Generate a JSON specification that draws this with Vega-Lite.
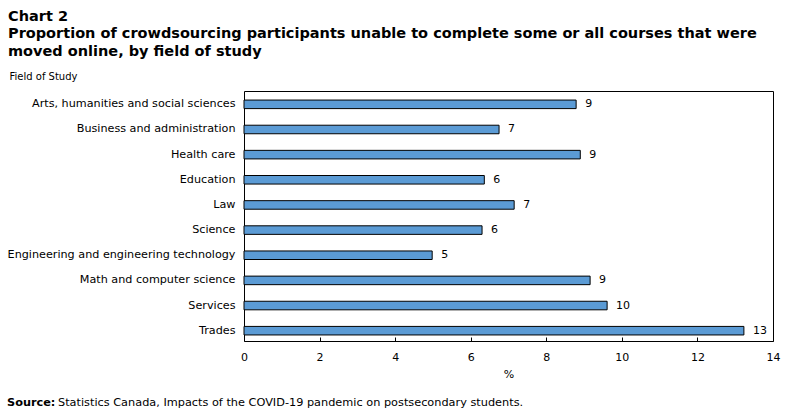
{
  "$schema": "https://vega.github.io/schema/vega-lite/v6.json",
  "width": 529,
  "height": 250,
  "autosize": {"type": "none"},
  "padding": {"left": 244, "top": 91, "right": 21, "bottom": 75},
  "background": "white",
  "config": {
    "font": "DejaVu Sans",
    "view": {"stroke": "black", "strokeWidth": 1},
    "axis": {"labelColor": "black", "titleColor": "black", "labelFont": "DejaVu Sans", "titleFont": "DejaVu Sans"}
  },
  "title": {
    "text": [
      "Chart 2",
      "Proportion of crowdsourcing  participants unable to complete some or all courses that were",
      "moved online,  by field of study"
    ],
    "anchor": "start",
    "frame": "group",
    "dx": -236,
    "offset": 12,
    "font": "DejaVu Sans",
    "fontSize": 14.5,
    "fontWeight": "bold",
    "lineHeight": 17.5,
    "color": "black"
  },
  "layer": [
    {
      "data": {
        "values": [
          {"field": "Arts, humanities and social sciences", "pct": 8.79},
          {"field": "Business and administration", "pct": 6.75},
          {"field": "Health care", "pct": 8.9},
          {"field": "Education", "pct": 6.36},
          {"field": "Law", "pct": 7.15},
          {"field": "Science", "pct": 6.3},
          {"field": "Engineering and engineering technology", "pct": 4.98},
          {"field": "Math and computer science", "pct": 9.16},
          {"field": "Services", "pct": 9.61},
          {"field": "Trades", "pct": 13.23}
        ]
      },
      "encoding": {
        "y": {
          "field": "field",
          "type": "nominal",
          "sort": null,
          "scale": {"paddingInner": 0.66, "paddingOuter": 0.3, "align": 0.6},
          "axis": {
            "title": "Field of Study",
            "titleAngle": 0,
            "titleAlign": "left",
            "titleBaseline": "alphabetic",
            "titleX": -235,
            "titleY": -12,
            "titleFontSize": 10,
            "titleFontWeight": "normal",
            "labelFontSize": 11.2,
            "labelPadding": 9,
            "labelLimit": 0,
            "ticks": false,
            "domain": false
          }
        },
        "x": {
          "field": "pct",
          "type": "quantitative",
          "scale": {"domain": [0, 14], "nice": false},
          "axis": {
            "values": [0, 2, 4, 6, 8, 10, 12, 14],
            "grid": false,
            "domain": false,
            "tickSize": -4,
            "tickColor": "black",
            "labelFontSize": 11,
            "labelPadding": 14,
            "labelFlush": false,
            "title": "%",
            "titleFontSize": 11,
            "titleFontWeight": "normal",
            "titlePadding": 6
          }
        }
      },
      "layer": [
        {
          "mark": {"type": "bar", "fill": "#5B9BD5", "stroke": "black", "strokeWidth": 1}
        },
        {
          "mark": {"type": "text", "align": "left", "baseline": "middle", "dx": 9, "fontSize": 11, "color": "black"},
          "encoding": {
            "text": {"field": "pct", "type": "quantitative", "format": ".0f"}
          }
        }
      ]
    },
    {
      "data": {"values": [{"t": "Source:"}]},
      "mark": {"type": "text", "align": "left", "baseline": "alphabetic", "fontSize": 11.3, "fontWeight": "bold", "color": "black"},
      "encoding": {
        "text": {"field": "t"},
        "x": {"value": -237},
        "y": {"value": 315}
      }
    },
    {
      "data": {"values": [{"t": "Statistics Canada, Impacts of the COVID-19 pandemic on postsecondary students."}]},
      "mark": {"type": "text", "align": "left", "baseline": "alphabetic", "fontSize": 11.3, "color": "black"},
      "encoding": {
        "text": {"field": "t"},
        "x": {"value": -186},
        "y": {"value": 315}
      }
    }
  ]
}
